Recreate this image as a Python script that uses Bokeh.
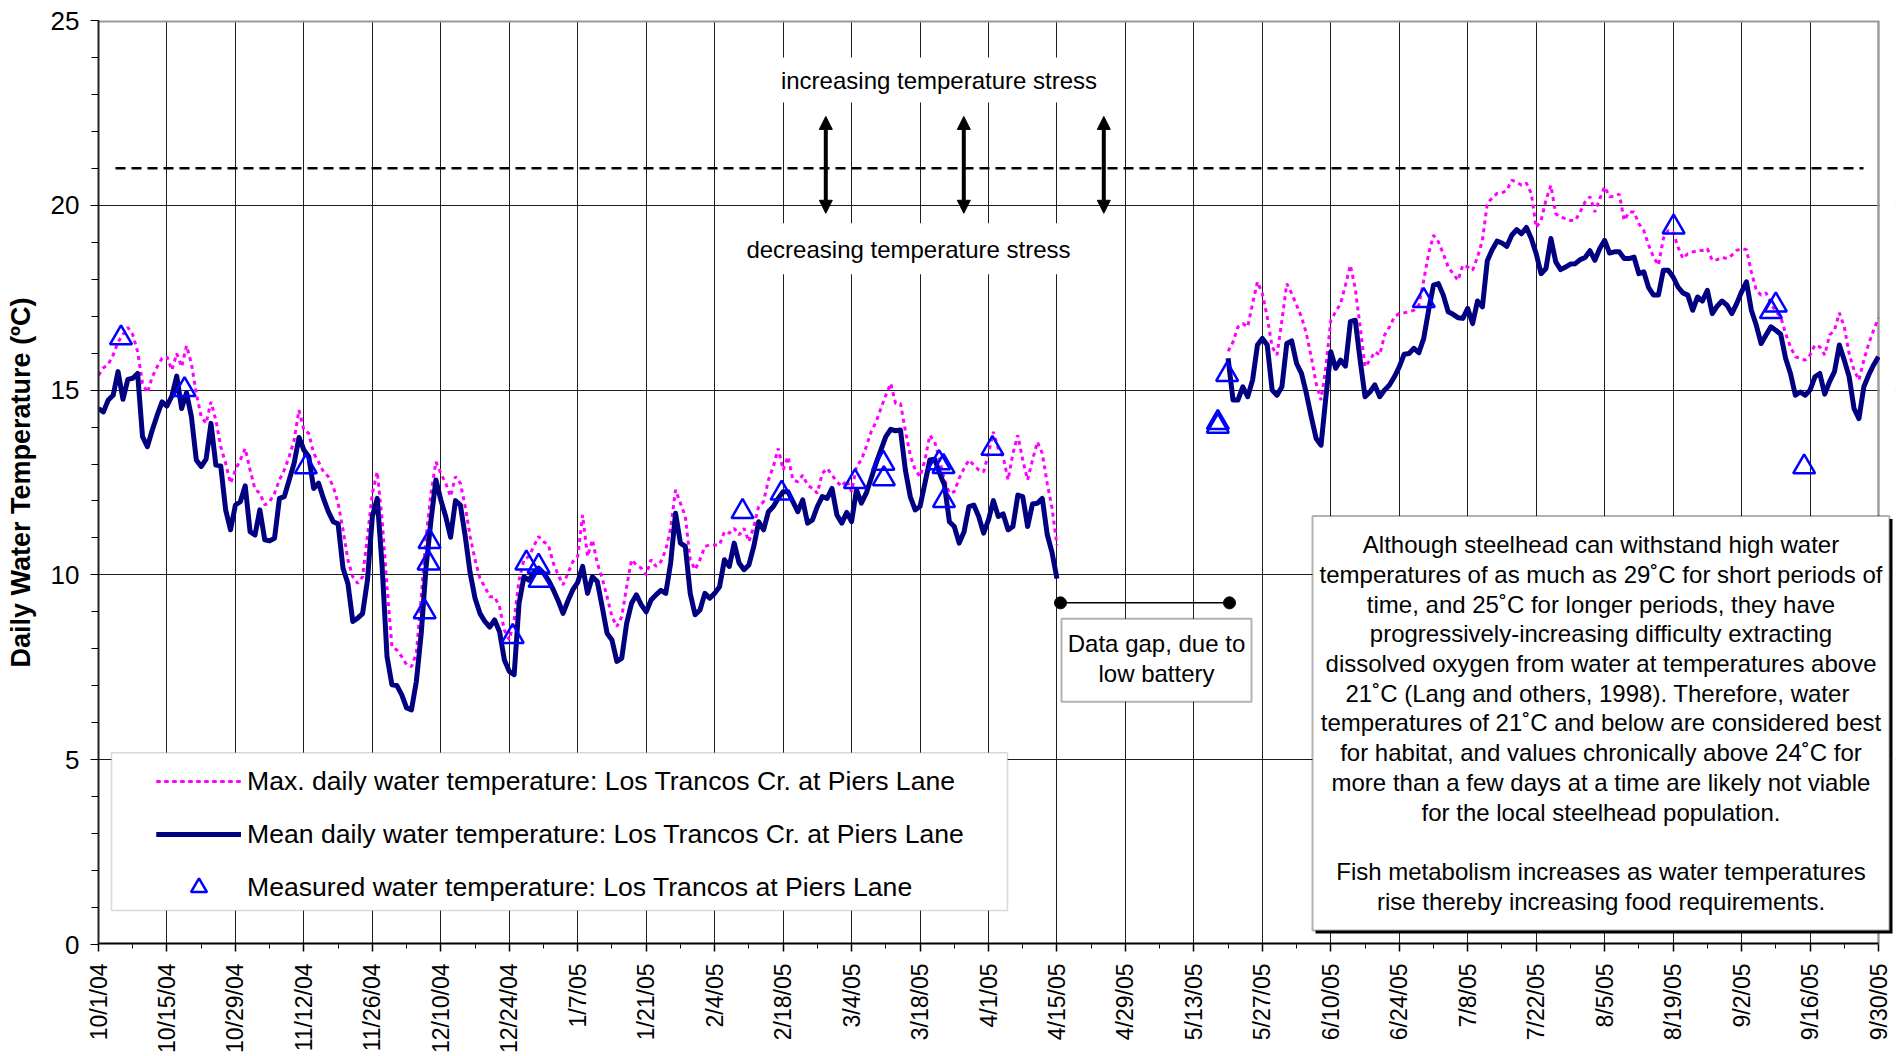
import math
from bokeh.plotting import figure
from bokeh.models import (Range1d, FixedTicker, Legend, LegendItem, BoxAnnotation,
                          Label, Arrow, NormalHead)
from bokeh.embed import file_html
from bokeh.resources import INLINE

FONT = "Liberation Sans"

# ---------------- data ----------------
tick_labels = ["10/1/04", "10/15/04", "10/29/04", "11/12/04", "11/26/04", "12/10/04",
               "12/24/04", "1/7/05", "1/21/05", "2/4/05", "2/18/05", "3/4/05", "3/18/05",
               "4/1/05", "4/15/05", "4/29/05", "5/13/05", "5/27/05", "6/10/05", "6/24/05",
               "7/8/05", "7/22/05", "8/5/05", "8/19/05", "9/2/05", "9/16/05", "9/30/05"]

# days counted from 10/1/04
fall_start_day = 0
mean_fall = [
    14.5, 14.41, 14.73, 14.86, 15.5, 14.75, 15.29, 15.32, 15.45, 13.74,
    13.47, 13.92, 14.32, 14.68, 14.57, 14.84, 15.38, 14.5, 14.93, 14.28,
    13.11, 12.93, 13.13, 14.1, 12.97, 12.95, 11.76, 11.22, 11.89, 11.98,
    12.41, 11.17, 11.08, 11.76, 10.95, 10.92, 10.99, 12.07, 12.12, 12.57,
    13.02, 13.72, 13.38, 13.2, 12.34, 12.48, 12.07, 11.71, 11.44, 11.38,
    10.18, 9.77, 8.74, 8.83, 8.95, 9.86, 11.58, 12.07, 10.23, 7.79,
    7.03, 7.01, 6.76, 6.4, 6.35, 7.12, 8.42, 10.23, 11.49, 12.57,
    12.03, 11.58, 11.02, 12.01, 11.89, 11.04, 10.05, 9.37, 8.96, 8.74,
    8.59, 8.78, 8.47, 7.7, 7.39, 7.3, 9.23, 9.95, 9.86, 10.05,
    10.18, 10.05, 9.86, 9.6, 9.3, 8.96, 9.3, 9.6, 9.8, 10.23,
    9.5, 9.95, 9.82, 9.14, 8.42, 8.24, 7.66, 7.75, 8.69, 9.23,
    9.46, 9.19, 9.0, 9.32, 9.46, 9.58, 9.5, 10.32, 11.67, 10.86,
    10.77, 9.5, 8.92, 9.05, 9.5, 9.37, 9.5, 9.68, 10.41, 10.23,
    10.86, 10.32, 10.14, 10.27, 10.77, 11.44, 11.22, 11.71, 11.85, 12.07,
    12.25, 12.25, 11.98, 11.71, 12.03, 11.4, 11.49, 11.85, 12.12, 12.07,
    12.34, 11.62, 11.4, 11.69, 11.44, 12.3, 11.94, 12.21, 12.61, 13.02,
    13.38, 13.74, 13.94, 13.9, 13.92, 12.84, 12.12, 11.76, 11.85, 12.48,
    13.11, 13.13, 12.75, 12.43, 11.44, 11.31, 10.86, 11.17, 11.85, 11.89,
    11.58, 11.13, 11.49, 12.01, 11.58, 11.65, 11.22, 11.31, 12.16, 12.12,
    11.31, 11.92, 11.94, 12.07, 11.1, 10.6, 9.9]
max_fall = [
    15.4, 15.6, 15.7, 15.95, 16.3, 16.5, 16.7, 16.5, 16.04, 15.18,
    14.93, 15.36, 15.63, 15.86, 15.9, 15.54, 15.99, 15.63, 16.2, 15.72,
    14.91, 14.28, 14.1, 14.68, 14.19, 13.47, 13.02, 12.48, 12.84, 13.11,
    13.42, 12.84, 12.32, 12.21, 11.89, 11.98, 12.21, 12.57, 12.84, 13.2,
    13.65, 14.46, 13.92, 13.83, 13.29, 13.06, 12.79, 12.66, 12.39, 11.94,
    11.22, 10.41, 9.95, 9.77, 9.95, 11.04, 12.21, 12.79, 11.49, 9.68,
    8.06, 7.97, 7.79, 7.57, 7.52, 7.88, 9.41, 11.04, 12.21, 13.06,
    12.75, 12.48, 12.12, 12.66, 12.48, 11.85, 11.04, 10.41, 9.91, 9.68,
    9.41, 9.41, 9.14, 8.51, 8.24, 8.78, 9.86, 10.41, 10.5, 10.77,
    11.04, 10.9, 10.81, 10.32, 10.0, 9.73, 10.05, 10.36, 10.5, 11.62,
    10.5, 10.95, 10.32, 9.91, 9.41, 8.87, 8.6, 8.87, 9.68, 10.41,
    10.27, 10.18, 10.0, 10.41, 10.23, 10.36, 10.68, 11.26, 12.3, 11.94,
    11.58, 10.41, 10.14, 10.41, 10.77, 10.81, 10.81, 10.81, 11.17, 11.13,
    11.26, 11.08, 11.26, 10.9, 11.31, 11.85, 11.98, 12.57, 12.93, 13.42,
    12.84, 13.2, 12.57, 12.52, 12.7, 12.43, 12.34, 12.21, 12.75, 12.88,
    12.7, 12.52, 12.39, 12.57, 12.25, 12.93, 13.11, 13.47, 13.87, 14.14,
    14.5, 14.86, 15.18, 14.64, 14.64, 13.9, 13.24, 12.84, 12.66, 13.11,
    13.78, 13.6, 13.11, 12.57, 12.21, 12.25, 12.61, 12.88, 13.11, 12.97,
    12.84, 12.79, 13.29, 13.87, 13.42, 13.2, 12.57, 13.29, 13.78, 13.11,
    12.57, 13.11, 13.6, 13.29, 12.48, 11.8, 10.8]

summer_start_day = 231
mean_summer = [
    15.86, 14.73, 14.73, 15.09, 14.82, 15.27, 16.22, 16.4, 16.22, 15.0,
    14.86, 15.09, 16.26, 16.33, 15.72, 15.45, 14.91, 14.28, 13.69, 13.51,
    14.82, 16.04, 15.59, 15.81, 15.65, 16.85, 16.89, 15.81, 14.82, 14.95,
    15.14, 14.82, 15.0, 15.14, 15.36, 15.63, 15.97, 15.99, 16.13, 16.01,
    16.4, 17.16, 17.84, 17.88, 17.57, 17.12, 17.05, 16.96, 16.94, 17.21,
    16.8, 17.41, 17.25, 18.5, 18.8, 19.03, 18.98, 18.89, 19.19, 19.34,
    19.23, 19.4, 19.1, 18.69, 18.15, 18.29, 19.1, 18.47, 18.26, 18.33,
    18.41, 18.42, 18.53, 18.59, 18.77, 18.51, 18.83, 19.05, 18.71, 18.74,
    18.74, 18.56, 18.56, 18.6, 18.15, 18.2, 17.77, 17.57, 17.57, 18.24,
    18.24, 18.06, 17.79, 17.63, 17.57, 17.16, 17.52, 17.41, 17.7, 17.07,
    17.27, 17.41, 17.3, 17.07, 17.34, 17.66, 17.93, 17.16, 16.76, 16.26,
    16.49, 16.71, 16.62, 16.51, 15.86, 15.45, 14.86, 14.95, 14.86, 15.0,
    15.36, 15.45, 14.89, 15.23, 15.5, 16.22, 15.81, 15.36, 14.5, 14.23,
    15.09, 15.41, 15.68, 15.9]
max_summer = [
    16.05, 16.3, 16.71, 16.8, 16.71, 17.34, 17.93, 17.61, 16.98, 16.17,
    15.95, 16.89, 17.88, 17.61, 17.3, 16.98, 16.53, 15.9, 15.18, 14.73,
    15.63, 16.89, 17.12, 17.34, 17.84, 18.38, 17.75, 16.71, 15.63, 15.81,
    16.04, 15.95, 16.49, 16.71, 16.98, 17.07, 17.09, 17.12, 17.16, 17.3,
    17.97, 18.69, 19.19, 19.01, 18.69, 18.33, 18.15, 17.97, 18.38, 18.33,
    18.24, 18.6, 19.05, 20.05, 20.2, 20.32, 20.33, 20.41, 20.68, 20.63,
    20.54, 20.6, 20.32, 19.4, 19.59, 20.14, 20.54, 19.77, 19.68, 19.64,
    19.59, 19.59, 19.82, 20.09, 20.23, 19.82, 20.18, 20.5, 20.23, 20.24,
    20.3, 19.59, 19.82, 19.82, 19.5, 19.32, 18.92, 18.6, 18.38, 19.1,
    19.32, 19.28, 18.87, 18.56, 18.69, 18.74, 18.77, 18.78, 18.83, 18.51,
    18.53, 18.59, 18.56, 18.65, 18.78, 18.83, 18.8, 18.2, 17.7, 17.57,
    17.63, 17.34, 17.12, 16.98, 16.53, 16.17, 15.9, 15.86, 15.81, 15.95,
    16.22, 16.17, 15.95, 16.49, 16.62, 17.09, 16.71, 15.99, 15.54, 15.27,
    15.81, 16.26, 16.62, 16.95]

measured_day = [4.6, 17.6, 42.4, 66.7, 67.5, 67.7, 84.7, 87.5, 90.0, 90.2,
                131.7, 139.7, 154.7, 160.5, 160.6, 171.9, 172.8, 172.9, 182.8,
                228.9, 228.9, 230.8, 271.0, 322.1, 342.0, 343.0, 348.8]
measured_temp = [16.41, 15.01, 12.92, 9.0, 10.32, 10.9, 8.33, 10.32, 10.23, 9.85,
                 11.71, 12.21, 12.52, 13.02, 12.6, 13.03, 12.93, 12.01, 13.42,
                 14.12, 14.02, 15.42, 17.42, 19.41, 17.12, 17.3, 12.92]

threshold = 21.0

legend_labels = ["Max. daily water temperature: Los Trancos Cr. at Piers Lane",
                 "Mean daily water temperature: Los Trancos Cr. at Piers Lane",
                 "Measured water temperature: Los Trancos at Piers Lane"]

note_lines = ["Although steelhead can withstand high water",
              "temperatures of as much as 29\u02daC for short periods of",
              "time, and 25\u02daC for longer periods, they have",
              "progressively-increasing difficulty extracting",
              "dissolved oxygen from water at temperatures above",
              "21\u02daC (Lang and others, 1998).  Therefore, water",
              "temperatures of 21\u02daC and below are considered best",
              "for habitat, and values chronically above 24\u02daC for",
              "more than a few days at a time are likely not viable",
              "for the local steelhead population.",
              "",
              "Fish metabolism increases as water temperatures",
              "rise thereby increasing food requirements."]
gap_lines = ["Data gap, due to", "low battery"]

# ---------------- layout helpers (page pixels -> data units, for annotations) ----------------
W, H = 1902, 1056
X0, X1, Y0, Y1 = 98, 1878, 945, 20      # frame position of day 0 / day 364 / 0 C / 25 C
XMAX, YMAX = 364, 25
FRAME_RIGHT = 1895                      # frame extended a little so the note box is not clipped


def dx(px):
    return (px - X0) * XMAX / (X1 - X0)


def dy(py):
    return (Y0 - py) * YMAX / (Y0 - Y1)


fall_days = list(range(fall_start_day, fall_start_day + len(mean_fall)))
summer_days = list(range(summer_start_day, summer_start_day + len(mean_summer)))

p = figure(width=W, height=H, output_backend="svg", toolbar_location=None,
           x_range=Range1d(0, dx(FRAME_RIGHT)), y_range=Range1d(0, YMAX),
           min_border_left=X0, min_border_right=W - FRAME_RIGHT, min_border_top=Y1,
           min_border_bottom=H - Y0)
p.background_fill_color = "white"
p.border_fill_color = "white"
p.outline_line_color = None

# axes
xt = list(range(0, XMAX + 1, 14))
p.xaxis.ticker = FixedTicker(ticks=xt, minor_ticks=list(range(0, XMAX + 1, 7)))
p.xaxis.major_label_overrides = {t: lab for t, lab in zip(xt, tick_labels)}
p.xaxis.major_label_orientation = math.pi / 2
p.xaxis.major_label_text_font = FONT
p.xaxis.major_label_text_font_size = "23px"
p.xaxis.major_label_text_color = "black"
p.xaxis.major_label_standoff = 12
p.xaxis.major_tick_out = 7
p.xaxis.major_tick_in = 0
p.xaxis.minor_tick_out = 4
p.xaxis.minor_tick_in = 0
p.xaxis.axis_line_color = None
p.xaxis.major_tick_line_color = "black"
p.xaxis.major_tick_line_width = 1.5
p.xaxis.minor_tick_line_color = "black"

p.yaxis.ticker = FixedTicker(ticks=[0, 5, 10, 15, 20, 25], minor_ticks=list(range(0, 26)))
p.yaxis.major_label_text_font = FONT
p.yaxis.major_label_text_font_size = "26px"
p.yaxis.major_label_text_color = "black"
p.yaxis.major_label_standoff = 11
p.yaxis.major_tick_out = 8
p.yaxis.major_tick_in = 0
p.yaxis.minor_tick_out = 7
p.yaxis.minor_tick_in = 0
p.yaxis.axis_line_width = 2
p.yaxis.axis_line_color = "#222222"
p.yaxis.major_tick_line_color = "black"
p.yaxis.minor_tick_line_color = "black"
p.yaxis.axis_label = "Daily Water Temperature (\u00baC)"
p.yaxis.axis_label_text_font = FONT
p.yaxis.axis_label_text_font_size = "27px"
p.yaxis.axis_label_text_font_style = "bold"
p.yaxis.axis_label_text_color = "black"
p.yaxis.axis_label_standoff = 12

p.xgrid.ticker = FixedTicker(ticks=xt[1:-1])
p.ygrid.ticker = FixedTicker(ticks=[5, 10, 15, 20])
p.grid.grid_line_color = "#1e1e1e"
p.grid.grid_line_width = 1

# mask the gridlines' ends to the right of 9/30/05 (frame is slightly wider)
p.add_layout(BoxAnnotation(left=dx(1879.4), right=dx(FRAME_RIGHT + 10), top=YMAX + 1, bottom=-1,
                           fill_color="white", fill_alpha=1, line_alpha=0, level="guide"))

# plot-area border: gray top/right, black bottom axis line (stop at 9/30/05)
p.segment(x0=[0, XMAX], y0=[YMAX, 0], x1=[XMAX, XMAX], y1=[YMAX, YMAX],
          line_color="#9a9a9a", line_width=[4, 2.5])
p.segment(x0=[0], y0=[0], x1=[XMAX], y1=[0], line_color="black", line_width=4)

# threshold line
p.line([dx(115), dx(1863)], [threshold, threshold], line_color="black",
       line_width=2.5, line_dash="10 6")

# series
max_style = dict(line_color="#FF00FF", line_width=3, line_dash="4 4")
mean_style = dict(line_color="#000080", line_width=5, line_join="round")
r_max1 = p.line(fall_days, max_fall, **max_style)
r_max2 = p.line(summer_days, max_summer, **max_style)
r_mean1 = p.line(fall_days, mean_fall, **mean_style)
r_mean2 = p.line(summer_days, mean_summer, **mean_style)
r_meas = p.scatter(measured_day, measured_temp, marker="triangle", size=22,
                   line_color="#0000FF", line_width=2.5, fill_color=None)

# legend box + legend
p.add_layout(BoxAnnotation(left=dx(111), right=dx(1007), top=dy(753), bottom=dy(911),
                           fill_color="white", fill_alpha=1, line_color="#808080",
                           line_width=1.5, level="guide"))
legend = Legend(items=[LegendItem(label=legend_labels[0], renderers=[r_max1, r_max2]),
                       LegendItem(label=legend_labels[1], renderers=[r_mean1, r_mean2]),
                       LegendItem(label=legend_labels[2], renderers=[r_meas])],
                location=(58, 37), orientation="vertical", padding=0, spacing=13,
                glyph_width=85, glyph_height=40, label_height=40, label_standoff=6,
                label_text_font=FONT, label_text_font_size="26.6px",
                label_text_color="black",
                border_line_alpha=0, background_fill_alpha=0, margin=0)
p.add_layout(legend)

# stress annotation boxes, texts and arrows
p.add_layout(BoxAnnotation(left=dx(775), right=dx(1124), top=dy(57), bottom=dy(102),
                           fill_color="white", fill_alpha=1, line_alpha=0, level="guide"))
p.add_layout(BoxAnnotation(left=dx(740), right=dx(1076), top=dy(223), bottom=dy(274),
                           fill_color="white", fill_alpha=1, line_alpha=0, level="guide"))
p.add_layout(Label(x=dx(938.5), y=dy(80), text="increasing temperature stress",
                   text_align="center", text_baseline="middle", text_font=FONT,
                   text_font_size="24px", text_color="black"))
p.add_layout(Label(x=dx(908), y=dy(249), text="decreasing temperature stress",
                   text_align="center", text_baseline="middle", text_font=FONT,
                   text_font_size="24px", text_color="black"))
for ax in (825.3, 963.3, 1103.3):
    p.add_layout(Arrow(x_start=dx(ax), y_start=dy(213), x_end=dx(ax), y_end=dy(116),
                       line_width=4, line_color="black",
                       start=NormalHead(size=13, fill_color="black", line_color="black"),
                       end=NormalHead(size=13, fill_color="black", line_color="black")))

# data gap annotation
p.segment(x0=[dx(1060)], y0=[dy(603)], x1=[dx(1229)], y1=[dy(603)],
          line_color="black", line_width=1.5)
p.scatter([dx(1060), dx(1229)], [dy(603), dy(603)], size=12, color="black")
p.add_layout(BoxAnnotation(left=dx(1061), right=dx(1251), top=dy(619), bottom=dy(702),
                           fill_color="white", fill_alpha=1, line_color="black",
                           line_width=2, level="guide"))
for i, t in enumerate(gap_lines):
    p.add_layout(Label(x=dx(1156), y=dy(644 + 30 * i), text=t, text_align="center",
                       text_baseline="middle", text_font=FONT, text_font_size="24px",
                       text_color="black"))

# note box with shadow
p.add_layout(BoxAnnotation(left=dx(1315), right=dx(1892), top=dy(519), bottom=dy(934),
                           fill_color="black", fill_alpha=1, line_alpha=0, level="guide"))
p.add_layout(BoxAnnotation(left=dx(1312), right=dx(1889), top=dy(516), bottom=dy(931),
                           fill_color="white", fill_alpha=1, line_color="black",
                           line_width=2, level="guide"))
for i, t in enumerate(note_lines):
    if t:
        p.add_layout(Label(x=dx(1600.5), y=dy(545 + 29.71 * i), text=t,
                           text_align="center", text_baseline="middle", text_font=FONT,
                           text_font_size="24px", text_color="black"))

open("out.html", "w").write(file_html(p, INLINE))
